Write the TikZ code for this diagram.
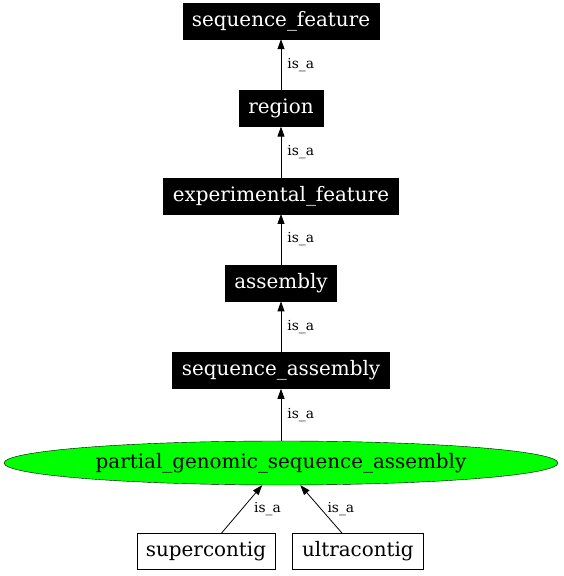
\documentclass[tikz,border=0pt]{standalone}
\usepackage{fontspec}
\setmainfont{DejaVu Serif}
\usetikzlibrary{arrows.meta,positioning,shapes.geometric}

\begin{document}
\begin{tikzpicture}[x=1pt,y=1pt,node distance=51pt,>={Triangle[length=10pt,width=7pt]}]
\tikzset{
  blk/.style={draw=black,fill=black,text=white,minimum height=36pt,inner sep=0pt,font=\fontsize{19.9}{23}\selectfont},
  wht/.style={draw=black,fill=white,minimum height=36pt,inner sep=0pt,font=\fontsize{19.9}{23}\selectfont},
  ell/.style={ellipse,draw=black,fill=green,minimum width=554pt,minimum height=44pt,inner sep=0pt,font=\fontsize{19.9}{23}\selectfont},
  lbl/.style={font=\fontsize{13.8}{16}\selectfont,inner sep=0pt},
  isa/.style={->,line width=0.8pt}
}
\useasboundingbox (0,0) rectangle (564,576);
\node[ell] (pgsa) at (281,113) {partial\_genomic\_sequence\_assembly};
\node[blk,above=52pt of pgsa,minimum width=217pt] (sa) {sequence\_assembly};
\node[blk,above=of sa,minimum width=111pt] (asm) {assembly};
\node[blk,above=of asm,minimum width=235pt] (ef) {experimental\_feature};
\node[blk,above=of ef,minimum width=84pt] (reg) {region};
\node[blk,above=of reg,minimum width=196pt] (sf) {sequence\_feature};
\node[wht,below=48pt of pgsa,xshift=-75pt,minimum width=138pt] (sc) {supercontig};
\node[wht,right=17pt of sc,minimum width=131pt] (uc) {ultracontig};
% is_a edges
\draw[isa] (reg) -- node[lbl,right=6pt] {is\_a} (sf);
\draw[isa] (ef) -- node[lbl,right=6pt] {is\_a} (reg);
\draw[isa] (asm) -- node[lbl,right=6pt] {is\_a} (ef);
\draw[isa] (sa) -- node[lbl,right=6pt] {is\_a} (asm);
\draw[isa] (pgsa) -- node[lbl,right=6pt] {is\_a} (sa);
\draw[isa] (sc) -- node[lbl,right=12pt] {is\_a} (pgsa);
\draw[isa] (uc) -- node[lbl,right=6pt] {is\_a} (pgsa);
\end{tikzpicture}
\end{document}
